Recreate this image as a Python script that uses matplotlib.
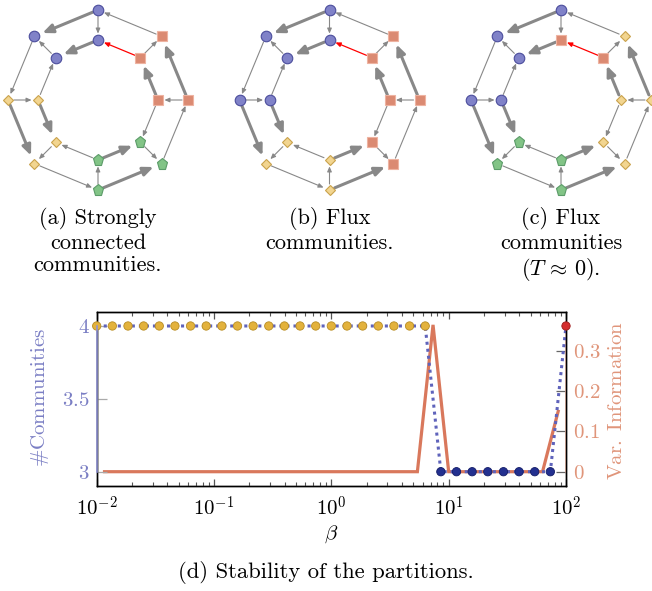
import numpy as np
import matplotlib
matplotlib.use("Agg")
import matplotlib.pyplot as plt
from matplotlib.patches import FancyArrowPatch, ArrowStyle
from matplotlib.transforms import blended_transform_factory

plt.rcParams['font.family'] = 'cmr10'
plt.rcParams['mathtext.fontset'] = 'cm'
plt.rcParams['axes.unicode_minus'] = False
plt.rcParams['axes.formatter.use_mathtext'] = True

# ---------------- data: stability chart ----------------
beta = np.logspace(-2, 2, 31)
beta_vi = np.sqrt(beta[:-1] * beta[1:])
n_communities = [4, 4, 4, 4, 4, 4, 4, 4, 4, 4, 4, 4, 4, 4, 4, 4, 4, 4, 4, 4, 4, 4,
                 3, 3, 3, 3, 3, 3, 3, 3,
                 4]
partition_colors = ['#e3b23c'] * 22 + ['#23308f'] * 8 + ['#d42e2e']
partition_edges = ['#b88c22'] * 22 + ['#121b66'] * 8 + ['#9c1a1a']
var_info = [0, 0, 0, 0, 0, 0, 0, 0, 0, 0, 0, 0, 0, 0, 0, 0, 0, 0, 0, 0, 0,
            0.365,
            0, 0, 0, 0, 0, 0, 0,
            0.15]
x_ticks = [1e-2, 1e-1, 1e0, 1e1, 1e2]
x_tick_labels = [r'$10^{-2}$', r'$10^{-1}$', r'$10^{0}$', r'$10^{1}$', r'$10^{2}$']
y_ticks = [3, 3.5, 4]
y_tick_labels = [r'$3$', r'$3.5$', r'$4$']
vi_ticks = [0, 0.1, 0.2, 0.3]
vi_tick_labels = [r'$0$', r'$0.1$', r'$0.2$', r'$0.3$']

# ---------------- data: networks ----------------
ring_angles = [0, 45, 90, 135, 180, 225, 270, 315]
thick_edges = [("O90", "O135"), ("I90", "I135"), ("O180", "O225"), ("I180", "I225"),
               ("O270", "O315"), ("I270", "I315"), ("O0", "O45"), ("I0", "I45")]
thin_edges = [("O45", "O90"), ("O135", "O180"), ("O225", "O270"), ("O315", "O0"),
              ("O90", "I90"), ("O180", "I180"), ("O270", "I270"), ("O0", "I0"),
              ("I135", "O135"), ("I225", "O225"), ("I315", "O315"), ("I45", "O45"),
              ("I180", "I135"), ("I270", "I225"), ("I0", "I315")]
red_edges = [("I45", "I90")]

partition_a = {"blue": ["O90", "I90", "O135", "I135"],
               "red": ["O45", "I45", "O0", "I0"],
               "yellow": ["O180", "I180", "O225", "I225"],
               "green": ["O270", "I270", "O315", "I315"]}
partition_b = {"blue": ["O90", "I90", "O135", "I135", "O180", "I180"],
               "yellow": ["O225", "I225", "O270", "I270"],
               "red": ["O315", "I315", "O0", "I0", "O45", "I45"]}
partition_c = {"blue": ["O90", "O135", "I135", "O180", "I180"],
               "red": ["I90", "I45"],
               "yellow": ["O45", "O0", "I0", "O315", "I315"],
               "green": ["O225", "I225", "O270", "I270"]}
captions = ["(a) Strongly\nconnected\ncommunities.",
            "(b) Flux\ncommunities.",
            "(c) Flux\ncommunities\n($T\\,\\approx\\,0$)."]
caption_d = "(d) Stability of the partitions."

# ---------------- styles ----------------
group_style = {
    "blue": dict(marker='o', ms=7.6, mfc='#8082c8', mec='#4b4d9c'),
    "red": dict(marker='s', ms=7.4, mfc='#db8a72', mec='#eeb3a1'),
    "yellow": dict(marker='D', ms=5.3, mfc='#f2d590', mec='#c9a24c'),
    "green": dict(marker='p', ms=8.2, mfc='#82c486', mec='#5b9b68'),
}
panel_cx = [98, 329.5, 561]
panel_cy = 100
R_out, R_in = 90, 60

fig = plt.figure(figsize=(6.52, 5.91), dpi=100)
net = fig.add_axes([0, 0, 1, 1])
net.set_xlim(0, 652)
net.set_ylim(591, 0)
net.axis('off')
net.patch.set_visible(False)


def node_pos(name, cx):
    rad = R_out if name[0] == 'O' else R_in
    ang = np.deg2rad(int(name[1:]))
    return (cx + rad * np.cos(ang), panel_cy - rad * np.sin(ang))


thick_style = ArrowStyle('-|>', head_length=6.0, head_width=2.6)
thin_style = ArrowStyle('-|>', head_length=3.0, head_width=1.3)

for cx, part, cap in zip(panel_cx, [partition_a, partition_b, partition_c], captions):
    for (s, t) in thick_edges:
        net.add_patch(FancyArrowPatch(node_pos(s, cx), node_pos(t, cx), arrowstyle=thick_style,
                                      color='#888888', lw=2.2, shrinkA=4, shrinkB=6.3,
                                      zorder=1))
    for (s, t) in thin_edges:
        net.add_patch(FancyArrowPatch(node_pos(s, cx), node_pos(t, cx), arrowstyle=thin_style,
                                      color='#888888', lw=0.8, shrinkA=4.3, shrinkB=4.6,
                                      zorder=1))
    for (s, t) in red_edges:
        net.add_patch(FancyArrowPatch(node_pos(s, cx), node_pos(t, cx), arrowstyle=thin_style,
                                      color='#ff0000', lw=0.9, shrinkA=4.3, shrinkB=4.6,
                                      zorder=2))
    for grp, members in part.items():
        pts = np.array([node_pos(m, cx) for m in members])
        st = group_style[grp]
        net.plot(pts[:, 0], pts[:, 1], ls='none', marker=st['marker'], ms=st['ms'],
                 mfc=st['mfc'], mec=st['mec'], mew=0.8, zorder=3)
    net.text(cx, 207, cap, ha='center', va='top', fontsize=16, linespacing=1.2,
             multialignment='center')

net.text(326, 572, caption_d, ha='center', va='center', fontsize=16.3)

# ---------------- stability chart ----------------
ax = fig.add_axes([96.7 / 652, 1 - 485.7 / 591, 469.3 / 652, 174 / 591])
ax2 = ax.twinx()
ax.set_zorder(ax2.get_zorder() + 1)
ax.patch.set_visible(False)

ax.set_xscale('log')
ax.set_xlim(1e-2, 1e2)
ax.set_ylim(2.904, 4.098)
ax2.set_ylim(-0.0348, 0.3977)

ax2.plot(beta_vi, var_info, color='#d9785c', lw=2.3, solid_joinstyle='miter', zorder=2)
ax.plot(beta, n_communities, color='#5f63bb', lw=2.2, ls=(0, (1, 1.3)), zorder=2)
ax.scatter(beta, n_communities, s=36, c=partition_colors, edgecolors=partition_edges,
           linewidths=0.6, zorder=3, clip_on=False)

blue_c = '#7b7fc4'
orange_c = '#e0957a'
ax.set_xticks(x_ticks)
ax.set_xticklabels(x_tick_labels, fontsize=15)
ax.set_yticks(y_ticks)
ax.set_yticklabels(y_tick_labels, fontsize=15, color=blue_c)
ax2.set_yticks(vi_ticks)
ax2.set_yticklabels(vi_tick_labels, fontsize=15, color=orange_c)

ax.tick_params(axis='x', which='both', direction='in', top=True, bottom=True, color='#555555',
               pad=7)
ax.tick_params(axis='x', which='major', length=5, width=0.9)
ax.tick_params(axis='x', which='minor', length=3.2, width=0.8)
ax.tick_params(axis='y', which='major', direction='in', length=7, width=0.9, color='#aaaaaa',
               pad=5, right=False)
ax.tick_params(axis='y', which='minor', left=False, right=False)
ax2.tick_params(axis='y', which='major', direction='in', length=7, width=0.9, color='#666666',
                pad=5)
ax2.tick_params(axis='y', which='minor', left=False, right=False)

for a in (ax, ax2):
    for sp in a.spines.values():
        sp.set_color('black')
        sp.set_linewidth(1.0)

# coloured axis segments over the data ranges
trL = blended_transform_factory(ax.transAxes, ax.transData)
ax.plot([0, 0], [min(n_communities), max(n_communities)], transform=trL, color='#8f92d2',
        lw=1.2, clip_on=False, zorder=4)
trR = blended_transform_factory(ax2.transAxes, ax2.transData)
ax2.plot([1, 1], [min(var_info), max(var_info)], transform=trR, color='#eebaa6',
         lw=1.2, clip_on=False, zorder=4)

ax.set_xlabel(r'$\beta$', fontsize=15, labelpad=3)
ax.set_ylabel(r'$\#\mathrm{Communities}$', fontsize=15, color=blue_c, va='center')
ax.yaxis.set_label_coords(-0.121, 0.505)
ax2.set_ylabel(r'$\mathrm{Var.\ Information}$', fontsize=15, color=orange_c, rotation=90,
               va='center')
ax2.yaxis.set_label_coords(1.108, 0.49)

fig.savefig('out.png', dpi=100)
